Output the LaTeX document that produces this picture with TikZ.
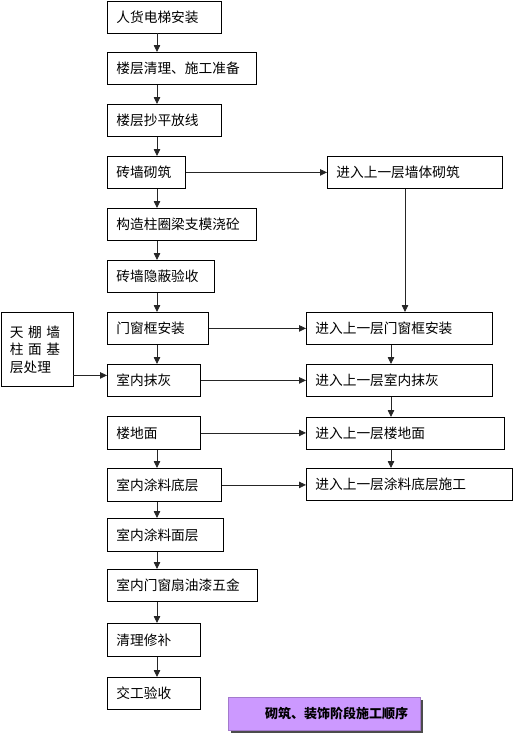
\documentclass[tikz,border=0pt]{standalone}
\usepackage{fontspec}
\newfontfamily\cjk{Noto Sans CJK SC}
\usetikzlibrary{arrows.meta}
\definecolor{capfill}{RGB}{204,153,255}
\tikzset{
  box/.style={draw, line width=0.8pt, anchor=north west, inner xsep=9pt, inner ysep=0pt,
    align=left, font=\cjk\fontsize{13.7}{17.5}\selectfont},
  arr/.style={draw=black!85, line width=0.8pt, -{Triangle[length=7pt,width=6.5pt]}},
}
\begin{document}
\begin{tikzpicture}[x=1pt,y=-1pt]
\useasboundingbox (0,0) rectangle (513,734);
% left column
\node[box, minimum width=114pt, minimum height=32pt, text width=96pt] (m1) at (107,0.5) {人货电梯安装};
\node[box, minimum width=149pt, minimum height=32pt, text width=131pt] (m2) at (107,52) {楼层清理、施工准备};
\node[box, minimum width=114pt, minimum height=32pt, text width=96pt] (m3) at (107,104) {楼层抄平放线};
\node[box, minimum width=78pt, minimum height=32pt, text width=60pt] (m4) at (107,156) {砖墙砌筑};
\node[box, minimum width=149pt, minimum height=32pt, text width=131pt] (m5) at (107,208) {构造柱圈梁支模浇砼};
\node[box, minimum width=107pt, minimum height=32pt, text width=89pt] (m6) at (107,260) {砖墙隐蔽验收};
\node[box, minimum width=101pt, minimum height=32pt, text width=83pt] (m7) at (107,312) {门窗框安装};
\node[box, minimum width=93pt, minimum height=32pt, text width=75pt] (m8) at (107,364) {室内抹灰};
\node[box, minimum width=93pt, minimum height=33pt, text width=75pt] (m9) at (107,416) {楼地面};
\node[box, minimum width=114pt, minimum height=33pt, text width=96pt] (m10) at (107,468) {室内涂料底层};
\node[box, minimum width=116pt, minimum height=33pt, text width=98pt] (m11) at (107,518) {室内涂料面层};
\node[box, minimum width=150pt, minimum height=32pt, text width=132pt] (m12) at (107,569) {室内门窗扇油漆五金};
\node[box, minimum width=93pt, minimum height=33pt, text width=75pt] (m13) at (107,623) {清理修补};
\node[box, minimum width=93pt, minimum height=32pt, text width=75pt] (m14) at (107,677) {交工验收};
% left side box
\node[box, minimum width=71.5pt, minimum height=74pt, text width=54pt, inner xsep=9pt] (L) at (0.5,312)
  {天\hspace{4.5pt}棚\hspace{4.5pt}墙\\柱\hspace{4.5pt}面\hspace{4.5pt}基\\层处理};
% right column
\node[box, minimum width=175pt, minimum height=32pt, text width=157pt] (rw) at (327,156) {进入上一层墙体砌筑};
\node[box, minimum width=186pt, minimum height=32pt, text width=168pt] (r1) at (306,312) {进入上一层门窗框安装};
\node[box, minimum width=186pt, minimum height=32pt, text width=168pt] (r2) at (306,364) {进入上一层室内抹灰};
\node[box, minimum width=198pt, minimum height=32pt, text width=180pt] (r3) at (306,417) {进入上一层楼地面};
\node[box, minimum width=206pt, minimum height=32pt, text width=188pt] (r4) at (306,468) {进入上一层涂料底层施工};
% caption
\fill[black!70] (231,700) rectangle (423,733);
\node[draw=capfill!80!black, fill=capfill, line width=0.5pt, anchor=north west, minimum width=192pt, minimum height=33pt,
  inner sep=0pt, inner xsep=0pt] (cap) at (228,697) {};
\node[anchor=west, inner sep=0pt, font=\cjk\bfseries\fontsize{13}{15}\selectfont] (capt) at ([xshift=37pt]cap.west) {砌筑、装饰阶段施工顺序};
% vertical arrows left column
\foreach \a/\b in {m1/m2,m2/m3,m3/m4,m4/m5,m5/m6,m6/m7,m7/m8,m9/m10,m10/m11,m11/m12,m12/m13,m13/m14}
  \draw[arr] ([xshift=50pt]\a.south west) -- ([xshift=50pt]\b.north west);
% horizontal arrows
\draw[arr] (m4.east) -- (m4.east -| rw.west);
\draw[arr] (m7.east) -- (m7.east -| r1.west);
\draw[arr] (m8.east) -- (m8.east -| r2.west);
\draw[arr] (m9.east) -- (m9.east -| r3.west);
\draw[arr] (m10.east) -- (m10.east -| r4.west);
% left box arrow
\coordinate (lp) at ([yshift=-26pt]L.east);
\draw[arr] (lp) -- (lp -| m8.west);
% right column verticals
\coordinate (rp) at ([xshift=78pt]rw.south west);
\draw[arr] (rp) -- (rp |- r1.north);
\foreach \a/\b in {r1/r2,r2/r3,r3/r4}
  \draw[arr] ([xshift=85pt]\a.south west) -- ([xshift=85pt]\a.south west |- \b.north);
\end{tikzpicture}
\end{document}
